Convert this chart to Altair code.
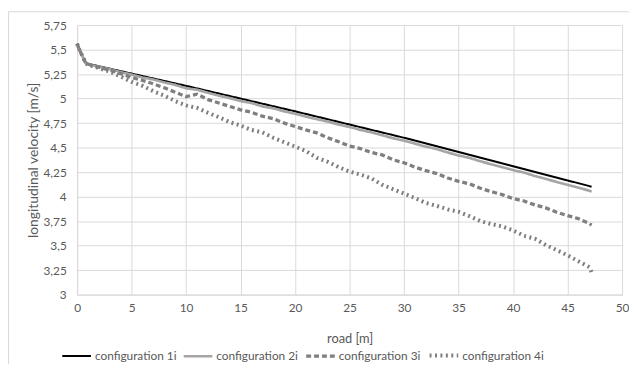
import altair as alt
import pandas as pd

series_names = ["configuration 1i", "configuration 2i", "configuration 3i", "configuration 4i"]

road = [0, 0.2, 0.8, 1, 2, 3, 4, 5, 6, 7, 8, 9, 10, 11, 12, 13, 14, 15, 16, 17, 18, 19,
        20, 21, 22, 23, 24, 25, 26, 27, 28, 29, 30, 31, 32, 33, 34, 35, 36, 37, 38, 39,
        40, 41, 42, 43, 44, 45, 46, 47, 47.2]

vel_1i = [5.56, 5.50, 5.36, 5.355, 5.33, 5.305, 5.28, 5.255, 5.23, 5.205, 5.18, 5.155,
          5.13, 5.104, 5.078, 5.052, 5.026, 5.00, 4.974, 4.948, 4.922, 4.896, 4.87, 4.843,
          4.816, 4.789, 4.762, 4.735, 4.708, 4.681, 4.654, 4.627, 4.60, 4.571, 4.542, 4.513,
          4.484, 4.455, 4.426, 4.397, 4.368, 4.339, 4.31, 4.281, 4.252, 4.223, 4.194, 4.165,
          4.136, 4.107, 4.10]

vel_2i = [5.56, 5.50, 5.36, 5.35, 5.325, 5.30, 5.27, 5.245, 5.215, 5.195, 5.165, 5.14,
          5.105, 5.09, 5.06, 5.03, 5.005, 4.975, 4.955, 4.92, 4.90, 4.87, 4.845, 4.815,
          4.79, 4.765, 4.735, 4.71, 4.68, 4.655, 4.625, 4.595, 4.57, 4.54, 4.51, 4.485,
          4.45, 4.42, 4.395, 4.36, 4.33, 4.30, 4.27, 4.245, 4.21, 4.18, 4.15, 4.12,
          4.09, 4.06, 4.05]

vel_3i = [5.56, 5.50, 5.36, 5.35, 5.32, 5.29, 5.255, 5.215, 5.185, 5.15, 5.11, 5.065,
          5.02, 5.045, 4.99, 4.955, 4.92, 4.885, 4.86, 4.82, 4.795, 4.75, 4.715, 4.68,
          4.65, 4.60, 4.56, 4.515, 4.49, 4.45, 4.425, 4.375, 4.345, 4.30, 4.265, 4.235,
          4.19, 4.155, 4.13, 4.085, 4.05, 4.02, 3.98, 3.955, 3.915, 3.885, 3.84, 3.805,
          3.775, 3.725, 3.71]

vel_4i = [5.56, 5.50, 5.36, 5.345, 5.31, 5.275, 5.225, 5.17, 5.13, 5.075, 5.03, 4.975,
          4.93, 4.905, 4.855, 4.81, 4.76, 4.725, 4.68, 4.655, 4.60, 4.555, 4.51, 4.465,
          4.395, 4.355, 4.30, 4.255, 4.225, 4.185, 4.12, 4.075, 4.03, 3.985, 3.935, 3.905,
          3.87, 3.845, 3.80, 3.75, 3.72, 3.695, 3.655, 3.60, 3.57, 3.505, 3.455, 3.40,
          3.34, 3.28, 3.23]

x_ticks = [0, 5, 10, 15, 20, 25, 30, 35, 40, 45, 50]
y_ticks = [3, 3.25, 3.5, 3.75, 4, 4.25, 4.5, 4.75, 5, 5.25, 5.5, 5.75]

series_colors = ["#000000", "#a5a5a5", "#7f7f7f", "#7f7f7f"]
series_dash = [[1, 0], [1, 0], [5, 3], [2, 3.5]]
series_width = [2, 4, 2.5, 2.2]

rows = []
for name, vals in zip(series_names, [vel_1i, vel_2i, vel_3i, vel_4i]):
    for r, v in zip(road, vals):
        rows.append({"series": name, "road": r, "vel": v})
df = pd.DataFrame(rows)

FONT = "Lato"
LABEL_COLOR = "#595959"

lines = alt.Chart(df).mark_line(strokeCap="butt", strokeJoin="round").encode(
    x=alt.X("road:Q", scale=alt.Scale(domain=[0, 50], nice=False),
            axis=alt.Axis(values=x_ticks, title="road [m]", labelFlush=False)),
    y=alt.Y("vel:Q", scale=alt.Scale(domain=[3, 5.75], nice=False, zero=False),
            axis=alt.Axis(values=y_ticks, title="longitudinal velocity [m/s]", labelFlush=False,
                          labelExpr="replace(format(datum.value, '.2~f'), '.', ',')")),
    color=alt.Color("series:N", sort=series_names,
                    scale=alt.Scale(domain=series_names, range=series_colors),
                    legend=alt.Legend(title=None)),
    strokeDash=alt.StrokeDash("series:N", sort=series_names,
                              scale=alt.Scale(domain=series_names, range=series_dash),
                              legend=alt.Legend(title=None)),
    strokeWidth=alt.StrokeWidth("series:O", sort=series_names,
                                scale=alt.Scale(domain=series_names, range=series_width),
                                legend=alt.Legend(title=None)),
)

frame = alt.Chart(pd.DataFrame({"a": [0]})).mark_rect(
    fill=None, stroke="#d9d9d9", strokeWidth=1
).encode(
    x=alt.value(-69.5), x2=alt.value(600), y=alt.value(-13.5), y2=alt.value(400)
)

chart = alt.layer(frame, lines).properties(
    width=552, height=273,
    autosize=alt.AutoSizeParams(type="none"),
    padding={"left": 70, "top": 15, "right": 7, "bottom": 68},
).configure_view(stroke=None).configure_axis(
    labelFont=FONT, titleFont=FONT, labelFontSize=12,
    labelColor=LABEL_COLOR, titleColor=LABEL_COLOR, titleFontWeight="normal",
    gridColor="#d9d9d9", domainColor="#d9d9d9", ticks=False,
).configure_axisY(
    labelPadding=11, titlePadding=3, titleFontSize=14,
).configure_axisX(
    labelPadding=8, titlePadding=20, titleFontSize=13,
).configure_legend(
    orient="none", legendX=-17, legendY=318, direction="horizontal", columns=4,
    symbolType="stroke", symbolSize=841, labelOffset=2, columnPadding=1,
    labelFont=FONT, labelFontSize=12, labelColor=LABEL_COLOR, padding=0,
)

chart.save("out.html", embed_options={"renderer": "svg", "actions": False})
